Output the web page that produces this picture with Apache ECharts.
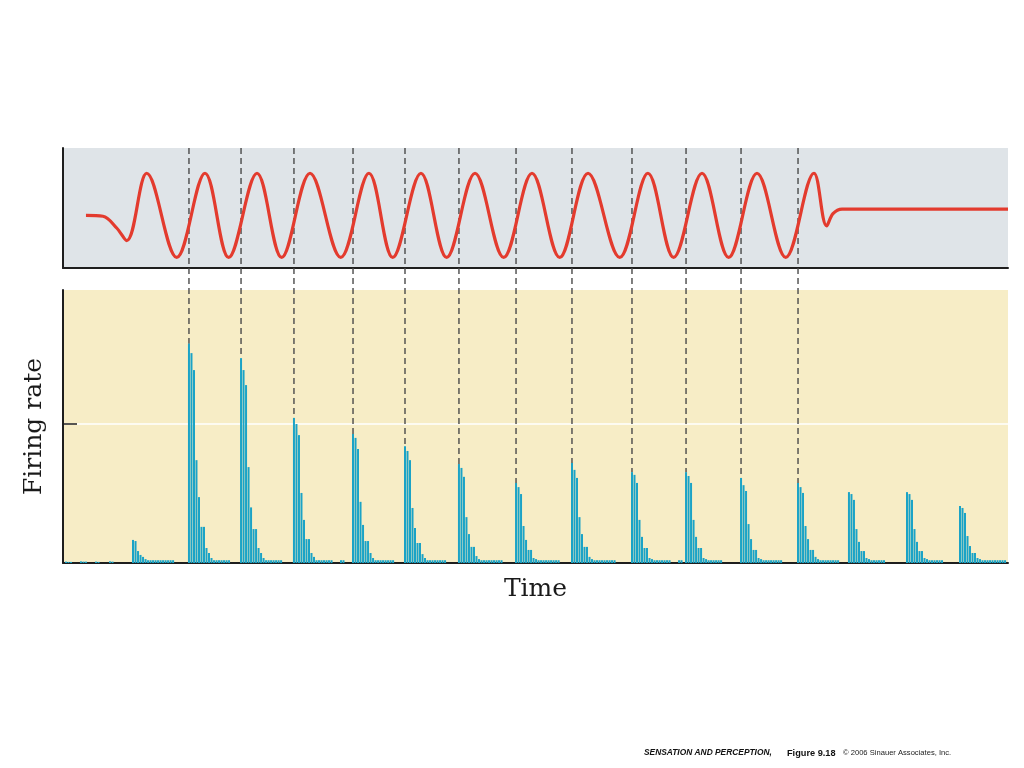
<!DOCTYPE html>
<html><head><meta charset="utf-8">
<script src="https://cdn.jsdelivr.net/npm/echarts@6/dist/echarts.min.js"></script>
<style>html,body{margin:0;padding:0;background:#fff}#chart{width:1024px;height:768px}</style>
</head><body><div id="chart"></div>
<script>
// ---------- DATA ----------
// Stimulus waveform: turning points (time in ms, displacement in arbitrary units)
const stimTimes = [24.3, 42.3, 56.8, 67.4, 88.6, 120.3, 150.3, 175.3, 205.3, 231.4, 261.4, 293.9, 323.8, 348.9, 378.8, 406.0, 436.0, 466.3, 496.3, 525.6, 555.6, 589.1, 619.0, 646.2, 676.2, 704.4, 734.4, 764.8, 794.7, 808.1, 814.8, 824.4, 840.0, 1000];
const stimValues = [0, -0.02, -0.3, -0.6, 1, -1, 1, -1, 1, -1, 1, -1, 1, -1, 1, -1, 1, -1, 1, -1, 1, -1, 1, -1, 1, -1, 1, -1, 1, -0.25, 0.04, 0.15, 0.15, 0.15];

// Rising zero-crossings of each stimulus cycle (dashed markers)
const cycleOnsets = [133.3, 188.4, 244.4, 306.9, 361.9, 419.0, 479.4, 538.6, 602.1, 659.3, 717.5, 777.8];

// Firing-rate histogram: burst onset times (ms) and per-bin rates
const BIN_MS = 2.65;
const burstOnsets = [74.1, 133.3, 188.4, 244.4, 306.9, 361.9, 419.0, 479.4, 538.6, 602.1, 659.3, 717.5, 777.8, 831.7, 893.1, 949.2];
const burst00 = [8.3, 7.9, 4.3, 2.9, 2.2, 1.4, 1, 1, 1, 1, 1, 1, 1, 1, 1, 1, 1];
const burst01 = [79, 75.5, 69.4, 37, 23.7, 13, 13, 5.4, 3.6, 1.8, 1, 1, 1, 1, 1, 1, 1];
const burst02 = [73.7, 69.4, 64, 34.5, 20, 12.2, 12.2, 5.4, 3.6, 1.8, 1, 1, 1, 1, 1, 1, 1];
const burst03 = [52.2, 50, 46, 25.2, 15.5, 8.6, 8.6, 3.6, 2.2, 1, 1, 1, 1, 1, 1, 1];
const burst04 = [46.4, 45, 41, 22, 13.7, 7.9, 7.9, 3.6, 1.8, 1, 1, 1, 1, 1, 1, 1, 1];
const burst05 = [42, 40.3, 37, 19.8, 12.6, 7.2, 7.2, 3.2, 1.8, 1, 1, 1, 1, 1, 1, 1, 1];
const burst06 = [35.6, 34.2, 31, 16.5, 10.4, 5.8, 5.8, 2.5, 1.4, 1, 1, 1, 1, 1, 1, 1, 1, 1];
const burst07 = [28.8, 27.3, 24.8, 13.3, 8.3, 4.7, 4.7, 1.8, 1.4, 1, 1, 1, 1, 1, 1, 1, 1, 1];
const burst08 = [36, 33.5, 30.6, 16.5, 10.4, 5.8, 5.8, 2.2, 1.4, 1, 1, 1, 1, 1, 1, 1, 1, 1];
const burst09 = [32.7, 31.7, 28.8, 15.5, 9.4, 5.4, 5.4, 1.8, 1.4, 1, 1, 1, 1, 1, 1, 1];
const burst10 = [32.7, 31.3, 28.8, 15.5, 9.4, 5.4, 5.4, 1.8, 1.4, 1, 1, 1, 1, 1, 1];
const burst11 = [30.6, 28, 25.9, 14, 8.6, 4.7, 4.7, 1.8, 1.4, 1, 1, 1, 1, 1, 1, 1, 1];
const burst12 = [28.8, 27.3, 25.2, 13.3, 8.6, 4.7, 4.7, 2.2, 1.4, 1, 1, 1, 1, 1, 1, 1, 1];
const burst13 = [25.5, 24.8, 22.7, 12.2, 7.6, 4.3, 4.3, 1.8, 1.4, 1, 1, 1, 1, 1, 1];
const burst14 = [25.5, 24.8, 22.7, 12.2, 7.6, 4.3, 4.3, 1.8, 1.4, 1, 1, 1, 1, 1, 1];
const burst15 = [20.5, 19.8, 18, 9.7, 6.1, 3.6, 3.6, 1.8, 1.4, 1, 1, 1, 1, 1, 1, 1, 1, 1, 1];
// isolated spontaneous spikes
const spontTimes = [3.2, 5.8, 8.5, 19.0, 21.7, 24.3, 34.9, 37.6, 49.7, 52.4, 294.2, 296.8, 651.9, 654.5];
const spontRates = [0.5, 0.4, 0.4, 0.6, 0.5, 0.5, 0.5, 0.4, 0.6, 0.5, 1, 1, 1, 1];

const rateTicks = [50];
const texts = {
  yName: 'Firing rate',
  xName: 'Time',
  creditTitle: 'SENSATION AND PERCEPTION,',
  creditFigure: 'Figure 9.18',
  creditCopy: '© 2006 Sinauer Associates, Inc.'
};

// ---------- BUILD ----------
const bursts = [burst00, burst01, burst02, burst03, burst04, burst05, burst06, burst07, burst08, burst09, burst10, burst11, burst12, burst13, burst14, burst15];
const barData = [];
bursts.forEach((b, k) => b.forEach((v, i) => barData.push([burstOnsets[k] + i * BIN_MS, v])));
spontTimes.forEach((t, i) => barData.push([t, spontRates[i]]));
const stimData = stimTimes.map((t, i) => [t, stimValues[i]]);
const markerData = cycleOnsets.map(t => {
  const k = burstOnsets.indexOf(t);
  return [t, Math.max.apply(null, bursts[k])];
});

const G_TOP = { left: 63, top: 148, width: 945, height: 120 };
const G_BOT = { left: 63, top: 290, width: 945, height: 273 };
const AX = { lineStyle: { color: '#1e1e1e', width: 2 } };
const SERIF = 'DejaVu Serif';
const SANS = 'Liberation Sans';

const chart = echarts.init(document.getElementById('chart'), null, { renderer: 'canvas' });
chart.setOption({
  animation: false,
  backgroundColor: '#ffffff',
  title: [
    { left: 644, top: 749, padding: 0, text: texts.creditTitle,
      textStyle: { fontFamily: SANS, fontSize: 8.4, fontWeight: 'bold', fontStyle: 'italic', color: '#111' } },
    { left: 787, top: 748.5, padding: 0, text: texts.creditFigure,
      textStyle: { fontFamily: SANS, fontSize: 9.2, fontWeight: 'bold', color: '#111' } },
    { left: 843, top: 749, padding: 0, text: texts.creditCopy,
      textStyle: { fontFamily: SANS, fontSize: 7.6, fontWeight: 'normal', color: '#222' } }
  ],
  grid: [
    Object.assign({ show: true, backgroundColor: '#dfe4e8', borderWidth: 0 }, G_TOP),
    Object.assign({ show: true, backgroundColor: '#f7edc6', borderWidth: 0 }, G_BOT)
  ],
  xAxis: [
    { gridIndex: 0, type: 'value', min: 0, max: 1000, axisLine: Object.assign({ onZero: false }, AX),
      axisTick: { show: false }, axisLabel: { show: false }, splitLine: { show: false } },
    { gridIndex: 1, type: 'value', min: 0, max: 1000, axisLine: Object.assign({ onZero: false }, AX),
      axisTick: { show: false }, axisLabel: { show: false }, splitLine: { show: false },
      name: texts.xName, nameLocation: 'middle', nameGap: 14,
      nameTextStyle: { fontFamily: SERIF, fontSize: 25, color: '#1a1a1a' } }
  ],
  yAxis: [
    { gridIndex: 0, type: 'value', min: -1.25, max: 1.6, axisLine: Object.assign({ onZero: false }, AX),
      axisTick: { show: false }, axisLabel: { show: false }, splitLine: { show: false } },
    { gridIndex: 1, type: 'value', min: 0, max: 98.2, interval: 50,
      axisLine: Object.assign({ onZero: false }, AX),
      axisTick: { show: true, inside: true, length: 14, customValues: rateTicks, lineStyle: { color: '#1e1e1e', width: 1.5 } },
      axisLabel: { show: false },
      splitLine: { show: true, lineStyle: { color: '#ffffff', width: 1.5 } },
      name: texts.yName, nameLocation: 'middle', nameRotate: 90, nameGap: 16,
      nameTextStyle: { fontFamily: SERIF, fontSize: 25, color: '#1a1a1a' } }
  ],
  series: [
    {
      type: 'custom', xAxisIndex: 1, yAxisIndex: 1, z: 3, clip: false,
      data: markerData,
      renderItem: function (params, api) {
        const p = api.coord([api.value(0), api.value(1)]);
        return {
          type: 'line',
          shape: { x1: p[0], y1: G_TOP.top, x2: p[0], y2: p[1] },
          style: { stroke: '#4a4a4a', lineWidth: 1.4, lineDash: [6, 4] }
        };
      }
    },
    {
      type: 'line', xAxisIndex: 0, yAxisIndex: 0, z: 4,
      data: stimData, smooth: 0.36, showSymbol: false, symbol: 'none',
      lineStyle: { color: '#e33b2e', width: 3.2 }
    },
    {
      type: 'bar', xAxisIndex: 1, yAxisIndex: 1, z: 2,
      data: barData, barWidth: 2,
      itemStyle: { color: '#1ba3c6' }
    }
  ]
});
</script></body></html>
